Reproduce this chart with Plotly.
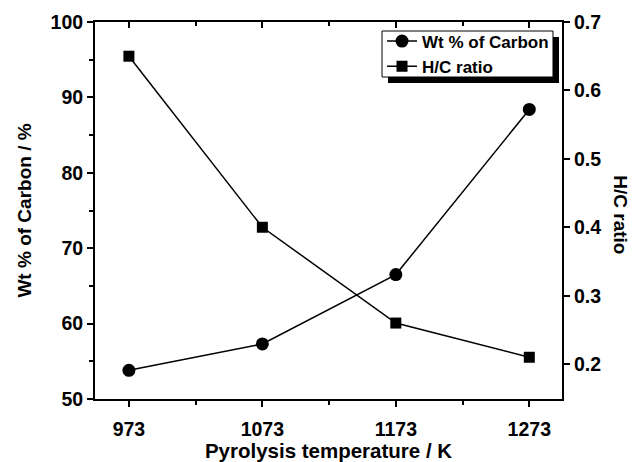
import plotly.graph_objects as go

temperature_K = [973, 1073, 1173, 1273]
wt_carbon = [53.8, 57.3, 66.5, 88.4]
hc_ratio = [0.65, 0.40, 0.26, 0.21]

FONT = "Liberation Sans, Arial, sans-serif"

fig = go.Figure()
fig.add_trace(go.Scatter(
    x=temperature_K, y=wt_carbon, name="Wt % of Carbon",
    mode="lines+markers", line=dict(color="black", width=1.5),
    marker=dict(symbol="circle", size=13, color="black"),
    xaxis="x", yaxis="y"))
fig.add_trace(go.Scatter(
    x=temperature_K, y=hc_ratio, name="H/C ratio",
    mode="lines+markers", line=dict(color="black", width=1.5),
    marker=dict(symbol="square", size=11, color="black"),
    xaxis="x", yaxis="y2"))
# invisible trace to draw top mirrored axis
fig.add_trace(go.Scatter(x=[temperature_K[0]], y=[wt_carbon[0]], mode="markers",
                         marker=dict(opacity=0), showlegend=False, hoverinfo="skip",
                         xaxis="x2", yaxis="y"))

tickfont = dict(family=FONT, size=19.5, color="black", weight="bold")
xr = [947.6, 1297.5]
LW = 2

fig.update_layout(
    width=638, height=462,
    margin=dict(l=95, r=76, t=22, b=63),
    paper_bgcolor="white", plot_bgcolor="white",
    showlegend=True,
    xaxis=dict(range=xr, tickmode="linear", tick0=973, dtick=100, automargin=False,
               ticks="outside", ticklen=6, tickwidth=LW, tickcolor="black",
               minor=dict(tick0=973, dtick=50, ticks="outside", ticklen=4, tickwidth=LW, tickcolor="black"),
               showline=True, linecolor="black", linewidth=LW, showgrid=False, zeroline=False,
               tickfont=tickfont, ticklabelstandoff=6,
               title=dict(text="Pyrolysis temperature / K", standoff=7,
                          font=dict(family=FONT, size=20.5, color="black", weight="bold"))),
    xaxis2=dict(range=xr, overlaying="x", side="top", anchor="y", tickmode="linear", tick0=973, dtick=100,
                automargin=False,
                ticks="inside", ticklen=6, tickwidth=LW, tickcolor="black",
                minor=dict(tick0=973, dtick=50, ticks="inside", ticklen=4, tickwidth=LW, tickcolor="black"),
                showticklabels=False, showline=True, linecolor="black", linewidth=LW,
                showgrid=False, zeroline=False),
    yaxis=dict(range=[50, 100], tickmode="linear", tick0=50, dtick=10, automargin=False,
               ticks="outside", ticklen=6, tickwidth=LW, tickcolor="black",
               minor=dict(dtick=5, ticks="outside", ticklen=4, tickwidth=LW, tickcolor="black"),
               showline=True, linecolor="black", linewidth=LW, showgrid=False, zeroline=False,
               tickfont=tickfont,
               title=dict(text="Wt % of Carbon / %", standoff=14,
                          font=dict(family=FONT, size=19, color="black", weight="bold"))),
    yaxis2=dict(range=[0.149, 0.7], overlaying="y", side="right", anchor="x", automargin=False,
                tickmode="array", tickvals=[0.2, 0.3, 0.4, 0.5, 0.6, 0.7],
                ticktext=["0.2", "0.3", "0.4", "0.5", "0.6", "0.7"],
                ticks="outside", ticklen=6, tickwidth=LW, tickcolor="black",
                showline=True, linecolor="black", linewidth=LW, showgrid=False, zeroline=False,
                tickfont=tickfont),
    legend=dict(x=0.6146, y=0.915, xanchor="left", yanchor="middle",
                bgcolor="rgba(0,0,0,0)", borderwidth=0,
                font=dict(family=FONT, size=17, color="black", weight="bold"),
                tracegroupgap=0, itemwidth=30),
    annotations=[dict(text="H/C ratio", textangle=90, xref="paper", yref="paper",
                      x=1.0, y=0.49, xanchor="center", yanchor="middle", xshift=59,
                      showarrow=False,
                      font=dict(family=FONT, size=19, color="black", weight="bold"))],
    shapes=[
        dict(type="rect", xref="paper", yref="paper",
             x0=0.6274, x1=0.9936, y0=0.8382, y1=0.9602,
             fillcolor="black", line=dict(width=0), layer="above"),
        dict(type="rect", xref="paper", yref="paper",
             x0=0.6146, x1=0.9807, y0=0.8541, y1=0.9761,
             fillcolor="white", line=dict(color="black", width=1), layer="above"),
    ],
)

fig.write_html("out.html", config={"displayModeBar": False},
               post_script="document.body.style.margin='0';")
